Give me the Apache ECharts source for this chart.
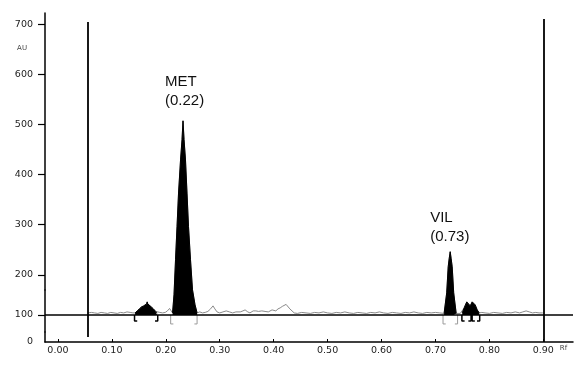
<!DOCTYPE html>
<html><head><meta charset="utf-8">
<script src="https://cdn.jsdelivr.net/npm/echarts@6/dist/echarts.min.js"></script>
<style>html,body{margin:0;padding:0;background:#fff}#c{width:584px;height:369px}</style>
</head><body><div id="c"></div>
<script>
// ---- data ----
const traceRf = [
0.056,0.062,0.068,0.074,0.080,0.086,0.092,0.098,0.104,0.110,0.116,0.122,0.128,0.134,0.139,
0.143,0.147,0.151,0.155,0.159,0.162,0.1645,0.1655,0.1665,0.169,0.173,0.177,0.181,0.184,
0.189,0.194,0.199,0.203,0.207,0.210,
0.2125,0.2152,0.2180,0.2208,0.2236,0.2273,0.2301,0.2319,0.2338,0.2365,0.2393,0.2421,0.2458,0.2495,0.2542,0.2580,
0.263,0.268,0.273,0.278,0.283,0.2875,0.291,0.295,0.300,0.306,0.312,0.318,0.324,0.330,0.338,0.343,0.347,0.352,0.356,
0.362,0.367,0.372,0.378,0.384,0.390,0.397,0.404,0.408,0.412,0.416,0.419,0.423,0.426,0.430,0.434,0.438,
0.444,0.452,0.460,0.468,0.476,0.484,0.492,0.500,0.508,0.516,0.524,0.532,0.540,0.548,0.556,0.564,0.572,0.580,
0.588,0.596,0.604,0.612,0.620,0.628,0.636,0.644,0.652,0.660,0.668,0.676,0.684,0.692,0.700,0.708,
0.7160,0.7208,0.7236,0.7254,0.7273,0.7291,0.7310,0.7338,0.7384,
0.742,0.746,
0.7496,0.7532,0.7580,0.7607,0.7644,0.7681,0.7709,0.7736,0.7774,0.7811,
0.786,0.792,0.800,0.808,0.816,0.824,0.832,0.840,0.848,0.856,0.862,0.868,0.874,0.880,0.886,0.892,0.899
];
const traceAu = [
104,105,104,103,105,104,103,105,104,103,105,104,106,105,104,
104,108,112,116,118,120,122,126,122,119,116,112,107,104,
105,104,105,108,113,108,
104,140,230,296,363,429,470,507,470,429,363,296,230,150,120,104,
106,104,105,107,112,118,112,106,104,106,108,106,104,106,106,108,110,106,104,
108,108,107,108,107,106,110,108,112,114,117,118,121,118,112,108,104,
103,105,104,103,105,104,106,104,103,105,104,106,104,103,105,104,103,105,
104,106,104,103,105,104,103,105,104,106,104,103,105,104,105,104,
103,144,216,232,246,232,216,144,103,
104,103,
104,114,126,124,118,126,128,120,110,104,
105,104,103,105,104,103,105,104,106,104,106,108,106,104,105,104,104
];
const peakRanges = [[0.143,0.184],[0.2125,0.258],[0.716,0.7384],[0.7496,0.7811]];
const bracketBlack = [[0.142,0.185],[0.749,0.766],[0.768,0.782]];
const bracketGrey = [[0.209,0.258],[0.714,0.741]];
const peakNames = ['MET\n(0.22)','VIL\n(0.73)'];
const peakRf = [0.2319,0.7273];
const peakAu = [507,246];
const frontRf = [0.056,0.90];
const frontBottom = [10,0];
const frontTop = [704,710];
const baselineAu = 100;
const xTicks = [0,0.1,0.2,0.3,0.4,0.5,0.6,0.7,0.8,0.9];
const yTicks = [0,100,200,300,400,500,600,700];

// ---- build ----
const tracePts = traceRf.map((r,i)=>[r,traceAu[i]]);
const inPeak = r => peakRanges.some(([a,b])=> r>=a-1e-9 && r<=b+1e-9);
const fillPts = traceRf.map((r,i)=> inPeak(r) ? [r,traceAu[i]] : [r,'-']);
function brackets(list, depth){
  const out=[];
  list.forEach(([a,b])=>{
    out.push([a,baselineAu],[a,depth],[a+0.005,depth],[a+0.005,'-']);
    out.push([b-0.005,depth],[b,depth],[b,baselineAu],[b,'-']);
  });
  return out;
}
const chart = echarts.init(document.getElementById('c'));
chart.setOption({
  animation:false,
  backgroundColor:'#fff',
  grid:{left:45,right:11,top:13,bottom:27,containLabel:false,outerBoundsMode:'none'},
  xAxis:{type:'value',min:-0.024,max:0.955,
    axisLine:{onZero:false,lineStyle:{color:'#000',width:1.5}},
    axisTick:{inside:true,length:3,customValues:xTicks,lineStyle:{color:'#000',width:1}},
    axisLabel:{customValues:xTicks,formatter:v=>v.toFixed(2),fontSize:9.5,fontFamily:'DejaVu Sans',color:'#222',margin:4},
    splitLine:{show:false},
    name:'Rf',nameLocation:'end',nameGap:-16,
    nameTextStyle:{fontSize:7,color:'#444',fontFamily:'DejaVu Sans',align:'left',verticalAlign:'top',padding:[3,0,0,0]}
  },
  yAxis:{type:'value',min:0,max:722,
    breaks:[{start:20,end:66,gap:0},{start:150,end:170,gap:0}],
    breakArea:{show:false,itemStyle:{opacity:0,borderWidth:0},zigzagAmplitude:0},
    axisLine:{show:true,onZero:false,lineStyle:{color:'#000',width:1.5}},
    axisTick:{show:true,length:7,customValues:yTicks.filter(v=>v>0),lineStyle:{color:'#000',width:1.2}},
    axisLabel:{customValues:yTicks,fontSize:9.5,fontFamily:'DejaVu Sans',color:'#222',margin:12},
    splitLine:{show:false},
    name:'AU',nameLocation:'end',nameGap:-35,
    nameTextStyle:{fontSize:7,color:'#444',fontFamily:'DejaVu Sans',align:'right',verticalAlign:'middle',padding:[0,18,0,0]}
  },
  series:[
    {type:'line',data:tracePts,symbol:'none',z:2,lineStyle:{color:'#8a8a8a',width:1},
     markLine:{silent:true,symbol:['none','none'],label:{show:false},
       data:[
         {yAxis:baselineAu,lineStyle:{color:'#000',width:1.6,type:'solid'}},
         ...frontRf.map((r,i)=>[{coord:[r,frontBottom[i]],lineStyle:{color:'#000',width:1.8,type:'solid'}},{coord:[r,frontTop[i]]}])
       ]}
    },
    {type:'line',data:fillPts,symbol:'none',z:3,connectNulls:false,
     lineStyle:{color:'#000',width:1},areaStyle:{color:'#000',opacity:1,origin:baselineAu},
     markPoint:{symbol:'circle',symbolSize:0,silent:true,
       data:peakNames.map((n,i)=>({coord:[peakRf[i],peakAu[i]],
         label:{show:true,formatter:n,position:'top',distance:0,align:'left',
           offset:[i===0?-18:-20,i===0?-10:-5],fontSize:15,lineHeight:19,
           fontFamily:'Liberation Sans, Arial',color:'#111'}}))}
    },
    {type:'line',data:brackets(bracketBlack,88),symbol:'none',z:4,connectNulls:false,lineStyle:{color:'#000',width:1.5}},
    {type:'line',data:brackets(bracketGrey,82),symbol:'none',z:4,connectNulls:false,lineStyle:{color:'#999',width:1}}
  ]
});
</script></body></html>
